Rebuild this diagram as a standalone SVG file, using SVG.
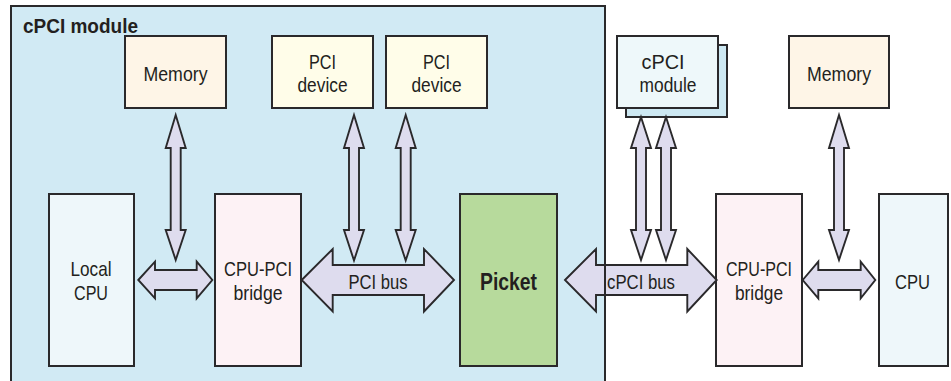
<svg xmlns="http://www.w3.org/2000/svg" width="951" height="381" viewBox="0 0 951 381">
  <style>
    .box { stroke: #2a292b; stroke-width: 2; }
    .mem { fill: #fef5e7; }
    .dev { fill: #fffde9; }
    .cpu { fill: #eef7fa; }
    .brg { fill: #fdf2f5; }
    .pkt { fill: #b7da9c; }
    .mod { fill: #eef8fa; }
    .modback { fill: #cde8f2; }
    .arrow { fill: #dedcee; stroke: #2a292b; stroke-width: 1.9; stroke-linejoin: miter; }
    text { font-family: "Liberation Sans", Arial, sans-serif; font-size: 21px; fill: #231f20; text-anchor: middle; }
    .title { font-size: 21px; font-weight: bold; text-anchor: start; }
    .bold { font-size: 23.5px; font-weight: bold; }
  </style>

  <!-- cPCI module enclosure (fill; border drawn last so it crosses the bus arrow) -->
  <g id="cpci-module-area">
    <rect x="11" y="6" width="594" height="385" fill="#d1eaf4"/>
    <text class="title" x="23" y="32.5" textLength="115" lengthAdjust="spacingAndGlyphs">cPCI module</text>
  </g>

  <!-- top row -->
  <g id="memory-local">
    <rect class="box mem" x="125" y="36" width="101" height="72"/>
    <text x="175.5" y="81" textLength="64" lengthAdjust="spacingAndGlyphs">Memory</text>
  </g>
  <g id="pci-device-1">
    <rect class="box dev" x="272" y="36" width="101" height="72"/>
    <text x="322.5" y="68.5" textLength="27" lengthAdjust="spacingAndGlyphs">PCI</text>
    <text x="322.5" y="91.5" textLength="50" lengthAdjust="spacingAndGlyphs">device</text>
  </g>
  <g id="pci-device-2">
    <rect class="box dev" x="386" y="36" width="101" height="72"/>
    <text x="436.5" y="68.5" textLength="27" lengthAdjust="spacingAndGlyphs">PCI</text>
    <text x="436.5" y="91.5" textLength="50" lengthAdjust="spacingAndGlyphs">device</text>
  </g>
  <g id="cpci-module-remote">
    <rect class="box modback" x="626" y="45" width="101" height="72"/>
    <rect class="box mod" x="617" y="36" width="101" height="72"/>
    <text x="663" y="68.5" textLength="43" lengthAdjust="spacingAndGlyphs">cPCI</text>
    <text x="668" y="91.5" textLength="57" lengthAdjust="spacingAndGlyphs">module</text>
  </g>
  <g id="memory-host">
    <rect class="box mem" x="789" y="36" width="100" height="72"/>
    <text x="839" y="81" textLength="64" lengthAdjust="spacingAndGlyphs">Memory</text>
  </g>

  <!-- bottom row -->
  <g id="local-cpu">
    <rect class="box cpu" x="49" y="194" width="85" height="172"/>
    <text x="91" y="276" textLength="41" lengthAdjust="spacingAndGlyphs">Local</text>
    <text x="91" y="300" textLength="34" lengthAdjust="spacingAndGlyphs">CPU</text>
  </g>
  <g id="bridge-local">
    <rect class="box brg" x="215" y="194" width="86" height="172"/>
    <text x="258" y="276" textLength="68" lengthAdjust="spacingAndGlyphs">CPU-PCI</text>
    <text x="258" y="300" textLength="49" lengthAdjust="spacingAndGlyphs">bridge</text>
  </g>
  <g id="picket">
    <rect class="box pkt" x="460" y="194" width="97" height="172"/>
    <text class="bold" x="508.5" y="289.5" textLength="57" lengthAdjust="spacingAndGlyphs">Picket</text>
  </g>
  <g id="bridge-host">
    <rect class="box brg" x="716" y="194" width="86" height="172"/>
    <text x="759" y="276" textLength="66" lengthAdjust="spacingAndGlyphs">CPU-PCI</text>
    <text x="759" y="300" textLength="48" lengthAdjust="spacingAndGlyphs">bridge</text>
  </g>
  <g id="cpu-host">
    <rect class="box cpu" x="879" y="194" width="69" height="172"/>
    <text x="912.5" y="288.5" textLength="35" lengthAdjust="spacingAndGlyphs">CPU</text>
  </g>

  <!-- connectors: double-headed block arrows -->
  <g id="connectors">
    <!-- vertical links between top-row boxes and the bottom row -->
    <path class="arrow" d="M175.7,115 L185.7,148 L180.7,148 L180.7,230 L185.7,230 L175.7,260 L165.7,230 L170.7,230 L170.7,148 L165.7,148 Z"/>
    <path class="arrow" d="M354,115 L364,148 L359,148 L359,230 L364,230 L354,260.5 L344,230 L349,230 L349,148 L344,148 Z"/>
    <path class="arrow" d="M405.7,115 L415.7,148 L410.7,148 L410.7,230 L415.7,230 L405.7,260.5 L395.7,230 L400.7,230 L400.7,148 L395.7,148 Z"/>
    <path class="arrow" d="M641,117 L651,148 L646,148 L646,230 L651,230 L641,260 L631,230 L636,230 L636,148 L631,148 Z"/>
    <path class="arrow" d="M666,117 L676,148 L671,148 L671,230 L676,230 L666,260 L656,230 L661,230 L661,148 L656,148 Z"/>
    <path class="arrow" d="M839,115 L849,148 L844,148 L844,230 L849,230 L839,260 L829,230 L834,230 L834,148 L829,148 Z"/>

    <!-- local CPU to bridge -->
    <path class="arrow" d="M138.3,280 L155,261.7 L155,270 L196.7,270 L196.7,261.7 L212.3,280 L196.7,298.3 L196.7,290 L155,290 L155,298.3 Z"/>
    <!-- PCI bus -->
    <path class="arrow" d="M301.7,280 L332.7,249 L332.7,265 L424,265 L424,249 L454,280 L424,311.5 L424,295 L332.7,295 L332.7,311.5 Z"/>
    <text x="378" y="288.5" textLength="59" lengthAdjust="spacingAndGlyphs">PCI bus</text>
    <!-- cPCI bus -->
    <path class="arrow" d="M565,280 L596,249 L596,265 L687.3,265 L687.3,249 L716.7,280 L687.3,311.5 L687.3,295 L596,295 L596,311.5 Z"/>
    <text x="641" y="288.5" textLength="68" lengthAdjust="spacingAndGlyphs">cPCI bus</text>
    <!-- host bridge to CPU -->
    <path class="arrow" d="M802.7,280 L818.3,261.7 L818.3,270 L860.7,270 L860.7,261.7 L875.3,280 L860.7,298.3 L860.7,290 L818.3,290 L818.3,298.3 Z"/>
  </g>

  <!-- enclosure border on top -->
  <rect x="11" y="6" width="594" height="385" fill="none" stroke="#2a292b" stroke-width="2"/>
</svg>
